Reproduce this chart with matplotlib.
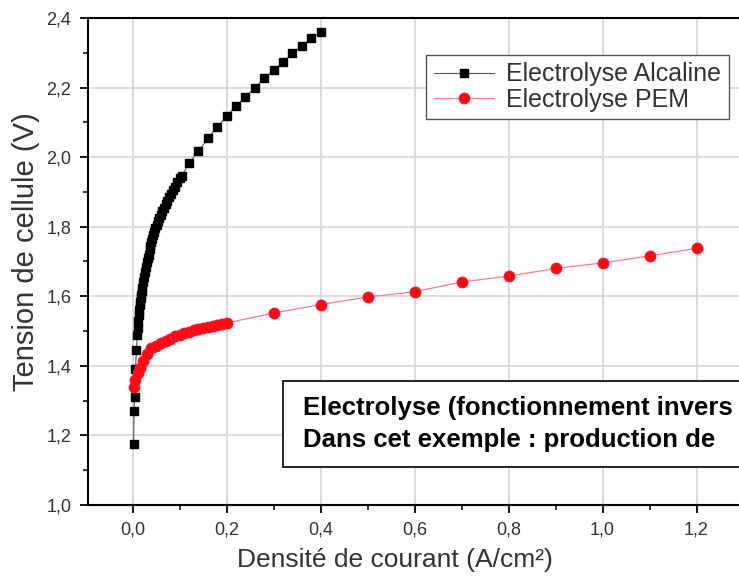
import matplotlib.pyplot as plt
from matplotlib.ticker import MultipleLocator, FuncFormatter
from matplotlib.patches import Rectangle

# Electrolyse alcaline: densite de courant (A/cm2) / tension (V)
alcaline_j = [0.002, 0.003, 0.004, 0.006, 0.008, 0.010, 0.011, 0.012, 0.013, 0.014,
              0.015, 0.016, 0.017, 0.018, 0.019, 0.020, 0.022, 0.024, 0.026, 0.028,
              0.030, 0.032, 0.034, 0.036, 0.038, 0.040, 0.042, 0.044, 0.046, 0.048,
              0.051, 0.054, 0.057, 0.060, 0.063, 0.066, 0.070, 0.074, 0.078, 0.082,
              0.086, 0.090, 0.095, 0.100, 0.104,
              0.12, 0.14, 0.16, 0.18, 0.20, 0.22, 0.24, 0.26, 0.28, 0.30,
              0.32, 0.34, 0.36, 0.38, 0.40]
alcaline_u = [1.175, 1.27, 1.31, 1.39, 1.445, 1.49, 1.51, 1.53, 1.545, 1.56,
              1.575, 1.585, 1.595, 1.605, 1.615, 1.625, 1.64, 1.655, 1.67, 1.685,
              1.70, 1.71, 1.72, 1.735, 1.745, 1.755, 1.765, 1.775, 1.785, 1.795,
              1.805, 1.815, 1.825, 1.835, 1.845, 1.855, 1.865, 1.875, 1.885, 1.895,
              1.905, 1.915, 1.928, 1.94, 1.945,
              1.983, 2.017, 2.054, 2.086, 2.118, 2.147, 2.172, 2.20, 2.227, 2.25,
              2.273, 2.299, 2.32, 2.342, 2.36]

# Electrolyse PEM
pem_j = [0.002, 0.006, 0.011, 0.016, 0.023, 0.030, 0.040, 0.050, 0.060, 0.070,
         0.080, 0.090, 0.100, 0.110, 0.120, 0.130, 0.140, 0.150, 0.160, 0.170,
         0.180, 0.190, 0.200, 0.3, 0.4, 0.5, 0.6, 0.7, 0.8, 0.9, 1.0, 1.1, 1.2]
pem_u = [1.34, 1.36, 1.38, 1.395, 1.415, 1.435, 1.45, 1.458, 1.466, 1.472,
         1.478, 1.485, 1.49, 1.494, 1.498, 1.502, 1.505, 1.508, 1.511, 1.514,
         1.517, 1.52, 1.523, 1.552, 1.576, 1.598, 1.613, 1.641, 1.658, 1.68,
         1.696, 1.716, 1.738]

plt.rcParams['font.family'] = ['Liberation Sans', 'DejaVu Sans']

W, H = 739, 578
fig = plt.figure(figsize=(W / 100, H / 100), dpi=100)
ax = fig.add_axes([88 / W, 73 / H, 679 / W, 487 / H])

ax.plot(alcaline_j, alcaline_u, color='#555555', lw=0.8, marker='s', ms=6,
        mfc='black', mec='black', label='Electrolyse Alcaline', zorder=3)
ax.plot(pem_j, pem_u, color='#ff7a90', lw=0.9, marker='o', ms=7.5,
        mfc='#ff0a0a', mec='#ff1030', label='Electrolyse PEM', zorder=4)

ax.set_xlim(-0.095, 1.35)
ax.set_ylim(1.0, 2.4)
ax.xaxis.set_major_locator(MultipleLocator(0.2))
ax.xaxis.set_minor_locator(MultipleLocator(0.1))
ax.yaxis.set_major_locator(MultipleLocator(0.2))
ax.yaxis.set_minor_locator(MultipleLocator(0.1))
virgule = FuncFormatter(lambda v, p: f"{v:.1f}".replace('.', ','))
ax.xaxis.set_major_formatter(virgule)
ax.yaxis.set_major_formatter(virgule)

ax.grid(which='major', color='#d4d4d4', lw=1.2)
ax.set_axisbelow(True)
for s in ['left', 'bottom', 'top']:
    ax.spines[s].set_linewidth(1.5)
ax.spines['right'].set_visible(False)
ax.tick_params(which='major', direction='out', length=6, width=1.3,
               labelsize=13, labelcolor='#333333')
ax.tick_params(which='minor', direction='out', length=3.5, width=1.1)
ax.tick_params(axis='x', which='major', pad=6)
ax.tick_params(axis='y', which='major', pad=6)

# positions des titres d'axes reprises de l'original (pas centres sur l'axe)
ax.set_xlabel('Densité de courant (A/cm²)', fontsize=19, color='#333333')
ax.xaxis.set_label_coords((395 - 88) / 679, -(548 - 505) / 487)
ax.set_ylabel('Tension de cellule (V)', fontsize=21, color='#333333')
ax.yaxis.set_label_coords(-(88 - 40) / 679, (505 - 252) / 487)

leg = ax.legend(loc='upper left', bbox_to_anchor=(426 / W, 1 - 55 / H),
                bbox_transform=fig.transFigure, fontsize=18, fancybox=False,
                edgecolor='#555555', framealpha=1, borderaxespad=0,
                borderpad=0.3, labelspacing=0.05, handlelength=2.4,
                handletextpad=0.5)
for t in leg.get_texts():
    t.set_color('#333333')
leg.get_frame().set_linewidth(1.0)

# encadre, coupe par le bord droit de l'image comme sur l'original
fig.add_artist(Rectangle((283 / W, 1 - 467 / H), 600 / W, 86 / H,
                         transform=fig.transFigure, facecolor='white',
                         edgecolor='black', lw=1.2, zorder=10))
fig.text(303 / W, 1 - 415 / H, 'Electrolyse (fonctionnement invers',
         fontsize=18.5, weight='bold', va='baseline', zorder=11)
fig.text(303 / W, 1 - 447 / H, 'Dans cet exemple : production de',
         fontsize=18.5, weight='bold', va='baseline', zorder=11)

fig.savefig('out.png', dpi=100)
